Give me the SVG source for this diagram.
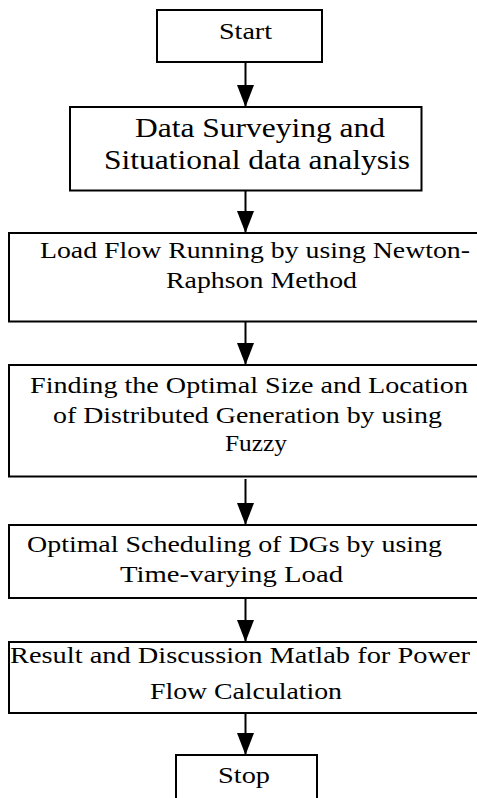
<svg xmlns="http://www.w3.org/2000/svg" width="477" height="798" viewBox="0 0 477 798">
<style>
  .box { fill: #ffffff; stroke: #000000; stroke-width: 2; }
  .t { font-family: "Liberation Serif", "Times New Roman", serif; fill: #000000; font-size: 23.5px; }
  .big { font-size: 27px; }
  .conn { stroke: #000000; stroke-width: 2; fill: none; marker-end: url(#arrow); }
</style>
<defs>
  <marker id="arrow" viewBox="0 0 22 17" refX="22" refY="8.5" markerWidth="22" markerHeight="17" markerUnits="userSpaceOnUse" orient="auto">
    <path d="M0,0 L22,8.5 L0,17 Z" fill="#000000"/>
  </marker>
</defs>
<rect x="0" y="0" width="477" height="798" fill="#ffffff"/>

<g id="start">
  <rect class="box" x="157" y="10" width="165" height="52"/>
  <text class="t" x="219" y="39" font-size="25" textLength="53" lengthAdjust="spacingAndGlyphs">Start</text>
</g>

<g id="data-surveying">
  <rect class="box" x="70" y="107" width="351.5" height="83.5"/>
  <text class="t big" x="135" y="137" textLength="250" lengthAdjust="spacingAndGlyphs">Data Surveying and</text>
  <text class="t big" x="104" y="169" textLength="306" lengthAdjust="spacingAndGlyphs">Situational data analysis</text>
</g>

<g id="load-flow">
  <rect class="box" x="9" y="233" width="480" height="88.5"/>
  <text class="t" x="40" y="258" textLength="430" lengthAdjust="spacingAndGlyphs">Load Flow Running by using Newton-</text>
  <text class="t" x="166" y="288" textLength="191" lengthAdjust="spacingAndGlyphs">Raphson Method</text>
</g>

<g id="optimal-size">
  <rect class="box" x="9" y="365" width="480" height="111.5"/>
  <text class="t" x="30" y="393" textLength="438" lengthAdjust="spacingAndGlyphs">Finding the Optimal Size and Location</text>
  <text class="t" x="53" y="423" textLength="389" lengthAdjust="spacingAndGlyphs">of Distributed Generation by using</text>
  <text class="t" x="225" y="451" textLength="62" lengthAdjust="spacingAndGlyphs">Fuzzy</text>
</g>

<g id="scheduling">
  <rect class="box" x="9" y="525" width="480" height="73"/>
  <text class="t" x="27" y="552" textLength="415" lengthAdjust="spacingAndGlyphs">Optimal Scheduling of DGs by using</text>
  <text class="t" x="120" y="582" textLength="223" lengthAdjust="spacingAndGlyphs">Time-varying Load</text>
</g>

<g id="result">
  <rect class="box" x="9" y="642" width="480" height="71"/>
  <text class="t" x="10" y="663" textLength="460" lengthAdjust="spacingAndGlyphs">Result and Discussion Matlab for Power</text>
  <text class="t" x="150" y="699" textLength="192" lengthAdjust="spacingAndGlyphs">Flow Calculation</text>
</g>

<g id="stop">
  <rect class="box" x="176" y="755" width="141" height="60"/>
  <text class="t" x="218" y="783" font-size="25" textLength="52" lengthAdjust="spacingAndGlyphs">Stop</text>
</g>

<g id="connectors">
  <line class="conn" x1="245.5" y1="62" x2="245.5" y2="107"/>
  <line class="conn" x1="245.5" y1="190.5" x2="245.5" y2="233"/>
  <line class="conn" x1="245.5" y1="321.5" x2="245.5" y2="365"/>
  <line class="conn" x1="245.5" y1="479" x2="245.5" y2="525"/>
  <line class="conn" x1="245.5" y1="598" x2="245.5" y2="642"/>
  <line class="conn" x1="245.5" y1="713" x2="245.5" y2="755"/>
</g>
</svg>
